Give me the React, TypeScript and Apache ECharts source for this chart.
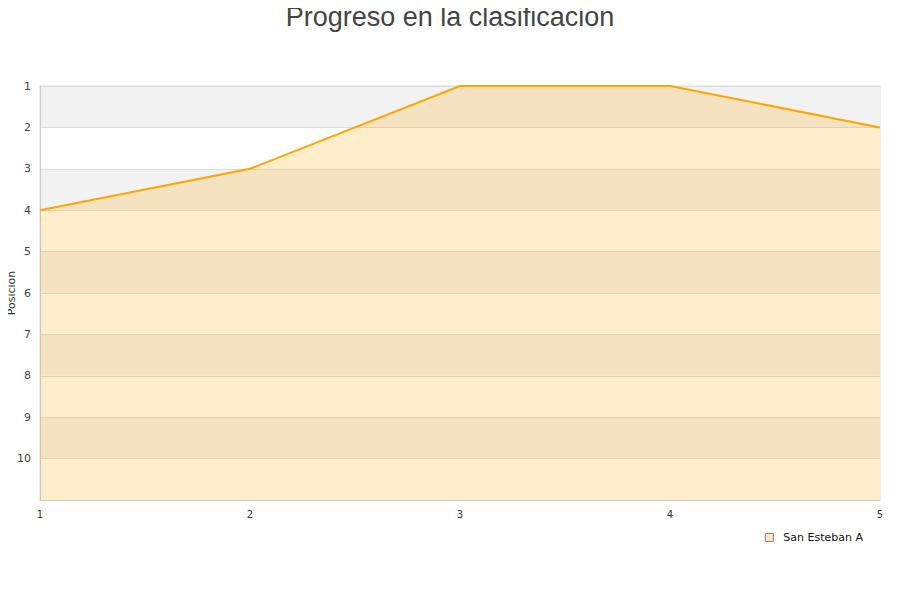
import { useEffect, useRef } from 'react';
import * as echarts from 'echarts';

const jornadas = [1, 2, 3, 4, 5];
const posiciones = [4, 3, 1, 1, 2];
const yTicks = [1, 2, 3, 4, 5, 6, 7, 8, 9, 10];
const equipo = 'San Esteban A';
const yAxisName = 'Posicion';

export default function App() {
  const chartRef = useRef<HTMLDivElement>(null);

  useEffect(() => {
    if (!chartRef.current) return;
    const chart = echarts.init(chartRef.current, null, { renderer: 'svg' });

    const option: echarts.EChartsOption = {
      animation: false,
      title: {
        text: 'Progreso en la clasificacion',
        left: 'center',
        top: -2,
        textStyle: {
          fontSize: 27,
          fontWeight: 'normal',
          color: '#444',
          fontFamily: 'Liberation Sans, Arial, sans-serif',
        },
      },
      // rotated axis title drawn as plain text
      graphic: [
        {
          type: 'text',
          x: 11,
          y: 293,
          rotation: Math.PI / 2,
          style: {
            text: yAxisName,
            fontSize: 11,
            fill: '#333',
            fontFamily: 'DejaVu Sans, sans-serif',
            textAlign: 'center',
            textVerticalAlign: 'middle',
          },
        },
      ],
      legend: {
        data: [equipo],
        right: 32,
        top: 527,
        itemWidth: 8,
        itemHeight: 8,
        icon: 'rect',
        itemStyle: { color: '#ffe8c0', borderColor: '#666', borderWidth: 0.8 },
        textStyle: {
          fontSize: 11,
          color: '#111',
          fontFamily: 'DejaVu Sans, sans-serif',
          padding: [0, 0, 0, 5],
        },
      },
      grid: {
        left: 40,
        right: 20,
        top: 86,
        bottom: 100,
        outerBoundsMode: 'none',
        containLabel: false,
        show: true,
        borderColor: '#ddd',
        borderWidth: 1,
      },
      xAxis: {
        type: 'value',
        min: 1,
        max: 5,
        interval: 1,
        axisLine: { show: true, lineStyle: { color: '#ccc' } },
        axisTick: { show: false },
        splitLine: { show: false },
        axisLabel: {
          fontSize: 10,
          color: '#333',
          margin: 9,
          fontFamily: 'DejaVu Sans, sans-serif',
          formatter: (v: number) => (jornadas.includes(v) ? String(v) : ''),
        },
      },
      yAxis: {
        type: 'value',
        inverse: true,
        min: 1,
        max: 11,
        interval: 1,
        axisLine: { show: true, lineStyle: { color: '#ccc' } },
        axisTick: { show: false },
        axisLabel: {
          fontSize: 11,
          color: '#444',
          margin: 9,
          fontFamily: 'DejaVu Sans, sans-serif',
          formatter: (v: number) => (yTicks.includes(v) ? String(v) : ''),
        },
        splitLine: { show: true, lineStyle: { color: '#ddd' } },
        splitArea: { show: true, areaStyle: { color: ['#f2f2f2', '#ffffff'] } },
      },
      series: [
        {
          name: equipo,
          type: 'line',
          data: jornadas.map((j, i) => [j, posiciones[i]]),
          showSymbol: false,
          symbol: 'none',
          lineStyle: { color: '#ffa500', width: 2 },
          itemStyle: { color: '#ffe8c0', borderColor: '#666', borderWidth: 0.8 },
          areaStyle: { color: '#ffa500', opacity: 0.2, origin: 'end' },
        },
      ],
    };

    chart.setOption(option);
    return () => chart.dispose();
  }, []);

  return <div ref={chartRef} style={{ width: 900, height: 600, margin: -8 }} />;
}
